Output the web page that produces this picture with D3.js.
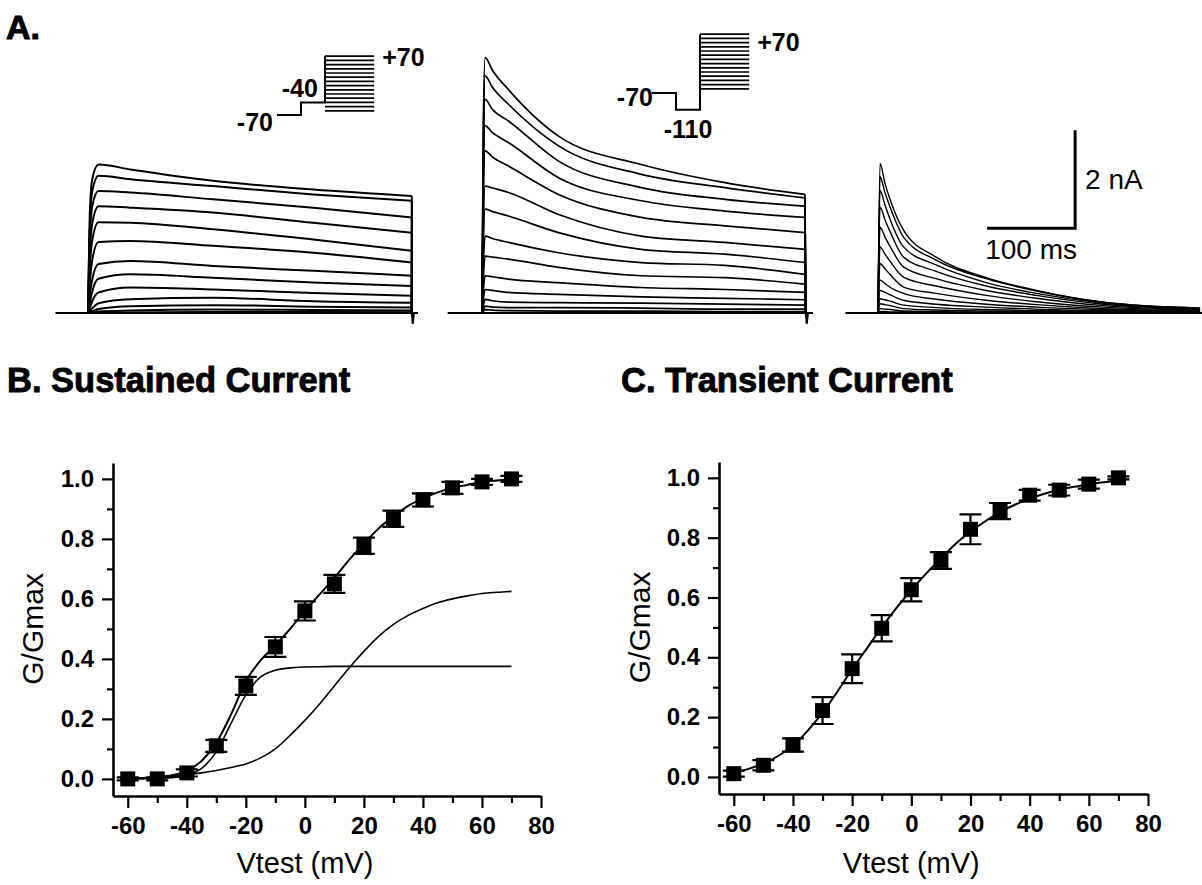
<!DOCTYPE html>
<html>
<head>
<meta charset="utf-8">
<script src="https://cdn.jsdelivr.net/npm/d3@7"></script>
<style>
  body { margin: 0; background: #fff; }
  svg { display: block; }
  text { font-family: "Liberation Sans", Arial, Helvetica, sans-serif; fill: #000; }
</style>
</head>
<body>
<svg id="fig" width="1202" height="885"></svg>
<script>
// ---- panel A: current traces (nA) at sample times (ms after step onset), one row per test step
const stepTimes1 = [0, 2, 5, 12, 48, 142, 256, 368];
const sustainedTraces = [
  [0, 2.0, 2.75, 3.03, 2.93, 2.70, 2.52, 2.39],
  [0, 1.8, 2.50, 2.80, 2.73, 2.59, 2.42, 2.29],
  [0, 1.5, 2.20, 2.49, 2.46, 2.32, 2.15, 1.95],
  [0, 1.2, 1.85, 2.18, 2.15, 2.05, 1.84, 1.64],
  [0, 0.9, 1.50, 1.85, 1.84, 1.71, 1.50, 1.27],
  [0, 0.6, 1.10, 1.45, 1.47, 1.37, 1.23, 1.03],
  [0, 0.35, 0.70, 1.00, 1.06, 0.96, 0.86, 0.76],
  [0, 0.20, 0.45, 0.70, 0.79, 0.72, 0.62, 0.55],
  [0, 0.10, 0.25, 0.42, 0.52, 0.48, 0.41, 0.35],
  [0, 0.04, 0.10, 0.20, 0.28, 0.31, 0.24, 0.21],
  [0, 0.02, 0.04, 0.08, 0.14, 0.16, 0.13, 0.11],
  [0, 0.01, 0.02, 0.03, 0.05, 0.07, 0.06, 0.05],
  [0, 0, 0.01, 0.01, 0.01, 0.02, 0.02, 0.01],
  [0, 0, 0, 0, 0, 0.01, 0.01, 0.01]
];

const stepTimes2 = [0, 1.5, 3.5, 12, 30, 87, 181, 276, 367];
const totalTraces = [
  [0, 3.8, 5.21, 4.95, 4.56, 3.61, 3.03, 2.66, 2.42],
  [0, 3.5, 4.84, 4.60, 4.26, 3.41, 2.83, 2.56, 2.35],
  [0, 3.1, 4.36, 4.15, 3.92, 3.10, 2.56, 2.32, 2.18],
  [0, 2.7, 3.82, 3.68, 3.48, 2.76, 2.29, 2.08, 1.95],
  [0, 2.3, 3.31, 3.18, 3.00, 2.42, 1.95, 1.78, 1.64],
  [0, 1.8, 2.59, 2.55, 2.46, 2.01, 1.57, 1.44, 1.30],
  [0, 1.4, 2.12, 2.07, 1.98, 1.64, 1.30, 1.20, 1.03],
  [0, 1.0, 1.57, 1.52, 1.44, 1.23, 1.03, 0.97, 0.79],
  [0, 0.7, 1.16, 1.14, 1.10, 0.93, 0.76, 0.72, 0.59],
  [0, 0.45, 0.76, 0.74, 0.69, 0.62, 0.52, 0.48, 0.42],
  [0, 0.28, 0.48, 0.46, 0.42, 0.38, 0.33, 0.30, 0.27],
  [0, 0.15, 0.28, 0.25, 0.22, 0.21, 0.20, 0.18, 0.16],
  [0, 0.07, 0.14, 0.12, 0.11, 0.11, 0.10, 0.08, 0.08],
  [0, 0.03, 0.07, 0.06, 0.05, 0.04, 0.04, 0.03, 0.03]
];

const stepTimes3 = [0, 2.3, 8, 14, 29, 66, 123, 180, 256, 366];
const transientTraces = [
  [0, 3.05, 2.64, 2.30, 1.69, 1.14, 0.72, 0.46, 0.22, 0.10],
  [0, 2.78, 2.45, 2.15, 1.55, 1.08, 0.70, 0.45, 0.22, 0.10],
  [0, 2.50, 2.20, 1.90, 1.35, 0.98, 0.62, 0.40, 0.20, 0.09],
  [0, 2.16, 1.90, 1.65, 1.14, 0.85, 0.55, 0.36, 0.18, 0.08],
  [0, 1.75, 1.55, 1.35, 0.94, 0.70, 0.46, 0.30, 0.15, 0.07],
  [0, 1.35, 1.20, 1.05, 0.73, 0.55, 0.36, 0.23, 0.12, 0.06],
  [0, 1.01, 0.90, 0.78, 0.53, 0.40, 0.26, 0.17, 0.09, 0.05],
  [0, 0.67, 0.60, 0.52, 0.40, 0.28, 0.18, 0.12, 0.07, 0.04],
  [0, 0.46, 0.42, 0.37, 0.26, 0.18, 0.12, 0.08, 0.05, 0.03],
  [0, 0.29, 0.27, 0.24, 0.16, 0.11, 0.07, 0.05, 0.03, 0.02],
  [0, 0.19, 0.17, 0.15, 0.09, 0.06, 0.04, 0.03, 0.02, 0.01],
  [0, 0.09, 0.08, 0.07, 0.04, 0.03, 0.02, 0.02, 0.01, 0.01],
  [0, 0.03, 0.03, 0.02, 0.02, 0.01, 0.01, 0.01, 0.01, 0]
];

// baseline (ms) before / after the step, pulse length
const preTime = [-37, -39, -37];
const postTime = [375, 376, 370];
const pulseEnd = 368;

// voltage protocols (mV)
const holdMv = -70;
const prepulseMv = [-40, -110];
const testStepsMv = [-60, -50, -40, -30, -20, -10, 0, 10, 20, 30, 40, 50, 60, 70];

// ---- panels B and C: normalised conductance
const vtest = [-60, -50, -40, -30, -20, -10, 0, 10, 20, 30, 40, 50, 60, 70];
const sustG = [0.0, 0.0, 0.02, 0.11, 0.31, 0.44, 0.56, 0.65, 0.777, 0.867, 0.93, 0.97, 0.99, 1.0];
const sustErr = [0.005, 0.005, 0.012, 0.02, 0.03, 0.033, 0.032, 0.03, 0.027, 0.027, 0.022, 0.02, 0.01, 0.01];
const transG = [0.011, 0.039, 0.107, 0.222, 0.362, 0.497, 0.626, 0.724, 0.828, 0.889, 0.942, 0.959, 0.979, 1.0];
const transErr = [0.01, 0.017, 0.022, 0.045, 0.048, 0.044, 0.039, 0.028, 0.05, 0.027, 0.018, 0.018, 0.015, 0.005];

const fitV = [-60, -55, -50, -45, -40, -35, -30, -25, -20, -15, -10, -5, 0, 5, 10, 15, 20, 25, 30, 35, 40, 45, 50, 55, 60, 65, 70];
const sustFitSum = [0.002, 0.003, 0.006, 0.012, 0.027, 0.06, 0.12, 0.215, 0.325, 0.395, 0.445, 0.50, 0.56, 0.615, 0.67, 0.73, 0.785, 0.835, 0.875, 0.91, 0.935, 0.955, 0.97, 0.98, 0.99, 0.995, 1.0];
const sustFitFast = [0.0, 0.0, 0.002, 0.004, 0.012, 0.035, 0.09, 0.185, 0.28, 0.34, 0.362, 0.37, 0.373, 0.374, 0.375, 0.375, 0.375, 0.375, 0.375, 0.375, 0.375, 0.375, 0.375, 0.375, 0.375, 0.375, 0.375];
const sustFitSlow = [0.002, 0.003, 0.005, 0.008, 0.014, 0.02, 0.028, 0.038, 0.05, 0.07, 0.10, 0.145, 0.195, 0.25, 0.31, 0.37, 0.425, 0.475, 0.515, 0.545, 0.568, 0.587, 0.60, 0.61, 0.618, 0.622, 0.625];
const transFit = [0.015, 0.027, 0.045, 0.07, 0.105, 0.155, 0.215, 0.285, 0.36, 0.43, 0.50, 0.565, 0.625, 0.68, 0.73, 0.78, 0.82, 0.855, 0.885, 0.91, 0.93, 0.947, 0.96, 0.97, 0.978, 0.985, 0.99];

const xMajor = [-60, -40, -20, 0, 20, 40, 60, 80];
const xMinor = [-50, -30, -10, 10, 30, 50, 70];
const yMajor = [0, 0.2, 0.4, 0.6, 0.8, 1.0];
const yMinor = [0.1, 0.3, 0.5, 0.7, 0.9];

const svg = d3.select("#fig");
const font = '"Liberation Sans", Arial, Helvetica, sans-serif';

// panel letter
svg.append("text").attr("x", 6).attr("y", 39)
  .style("font-size", "34px").style("font-weight", "bold")
  .attr("stroke", "#000").attr("stroke-width", 1).text("A.");

// ---------- panel A traces
const groups = [
  { step: 88, times: stepTimes1, traces: sustainedTraces, drop: true, w: 2 },
  { step: 482, times: stepTimes2, traces: totalTraces, drop: true, w: 1.7 },
  { step: 878, times: stepTimes3, traces: transientTraces, drop: false, w: 1.4 }
];
const pxPer100ms = 88, pxPer2nA = 98, base = 313;

const line = d3.line().curve(d3.curveMonotoneX);

groups.forEach((g, gi) => {
  g.x = d3.scaleLinear().domain([0, 100]).range([g.step, g.step + pxPer100ms]);
  g.y = d3.scaleLinear().domain([0, 2]).range([base, base - pxPer2nA]);
  const layer = svg.append("g");

  // baseline with end transient
  let bl = [[preTime[gi], 0], [0, 0]];
  if (g.drop) bl = bl.concat([[pulseEnd, 0], [pulseEnd + 1, -0.22], [pulseEnd + 2.5, 0], [postTime[gi], 0]]);
  else bl.push([postTime[gi], 0]);
  layer.append("path")
    .attr("d", d3.line()(bl.map(p => [g.x(p[0]), g.y(p[1])])))
    .attr("fill", "none").attr("stroke", "#000").attr("stroke-width", 2);

  g.traces.forEach(tr => {
    const pts = g.times.map((t, i) => [g.x(t), g.y(tr[i])]);
    layer.append("path")
      .attr("d", line(pts))
      .attr("fill", "none").attr("stroke", "#000")
      .attr("stroke-width", g.w).attr("stroke-linejoin", "round");
    if (g.drop) {
      const last = pts[pts.length - 1];
      layer.append("line")
        .attr("x1", last[0]).attr("x2", g.x(pulseEnd))
        .attr("y1", last[1]).attr("y2", g.y(0))
        .attr("stroke", "#000").attr("stroke-width", g.w);
    }
  });
});

// scale bar (drawn with the transient group's scales)
{
  const g = groups[2];
  const t0 = 124, i0 = 1.73;
  svg.append("path")
    .attr("d", d3.line()([[g.x(t0), g.y(i0)], [g.x(t0 + 100), g.y(i0)], [g.x(t0 + 100), g.y(i0 + 2)]]))
    .attr("fill", "none").attr("stroke", "#000").attr("stroke-width", 3);
  svg.append("text").attr("x", g.x(t0 + 100) + 10).attr("y", g.y(i0 + 1) + 10)
    .style("font-size", "28px").text("2 nA");
  svg.append("text").attr("x", g.x(t0 + 50)).attr("y", g.y(i0) + 31)
    .attr("text-anchor", "middle").style("font-size", "28px").text("100 ms");
}

// ---------- voltage protocol insets
function protocol(x0, yHold, pre, labels) {
  const v = d3.scaleLinear().domain([-70, 70]).range([yHold, yHold - 58.8]);
  const t = d3.scaleLinear().domain([0, 1]).range([x0, x0 + 24]);
  const g = svg.append("g");
  g.append("path")
    .attr("d", d3.line()([[t(0), v(holdMv)], [t(1), v(holdMv)], [t(1), v(pre)], [t(2), v(pre)], [t(2), v(70)]]))
    .attr("fill", "none").attr("stroke", "#000").attr("stroke-width", 2);
  g.selectAll("line.step").data(testStepsMv).join("line")
    .attr("x1", t(2)).attr("x2", t(4.05))
    .attr("y1", d => v(d)).attr("y2", d => v(d))
    .attr("stroke", "#000").attr("stroke-width", 1.7);
  labels(g, t, v);
}
const bold = sel => sel.style("font-size", "25px").style("font-weight", "bold");
protocol(277, 115, prepulseMv[0], (g, t, v) => {
  bold(g.append("text").attr("x", t(0) - 4).attr("y", v(holdMv) + 16).attr("text-anchor", "end")).text("-70");
  bold(g.append("text").attr("x", t(1.7)).attr("y", v(prepulseMv[0]) - 5).attr("text-anchor", "end")).text("-40");
  bold(g.append("text").attr("x", t(4.05) + 8).attr("y", v(70) + 10)).text("+70");
});
protocol(652, 93, prepulseMv[1], (g, t, v) => {
  bold(g.append("text").attr("x", t(0) + 1).attr("y", v(holdMv) + 13).attr("text-anchor", "end")).text("-70");
  bold(g.append("text").attr("x", t(1.5)).attr("y", v(prepulseMv[1]) + 28).attr("text-anchor", "middle")).text("-110");
  bold(g.append("text").attr("x", t(4.05) + 8).attr("y", v(70) + 17)).text("+70");
});

// ---------- panels B and C
function ivPanel(opt) {
  const x = d3.scaleLinear().domain([-65, 80]).range([opt.left, opt.right]);
  const y = d3.scaleLinear().domain([-0.057, 1.053]).range([opt.bottom, opt.top]);
  const g = svg.append("g");

  svg.append("text").attr("x", opt.titleX).attr("y", 392)
    .style("font-size", "34.5px").style("font-weight", "bold")
    .attr("stroke", "#000").attr("stroke-width", 0.9).text(opt.title);

  const fmtX = d => String(d);
  g.append("g").attr("transform", `translate(0,${opt.bottom})`)
    .call(d3.axisBottom(x).tickValues(xMajor).tickSize(12).tickSizeOuter(0).tickPadding(9).tickFormat(fmtX));
  g.append("g").attr("transform", `translate(0,${opt.bottom})`)
    .call(d3.axisBottom(x).tickValues(xMinor).tickSize(7).tickSizeOuter(0).tickFormat(""))
    .select(".domain").remove();
  g.append("g").attr("transform", `translate(${opt.left},0)`)
    .call(d3.axisLeft(y).tickValues(yMajor).tickSize(11).tickSizeOuter(0).tickPadding(8).tickFormat(d3.format(".1f")));
  g.append("g").attr("transform", `translate(${opt.left},0)`)
    .call(d3.axisLeft(y).tickValues(yMinor).tickSize(6).tickSizeOuter(0).tickFormat(""))
    .select(".domain").remove();
  g.selectAll(".domain").attr("stroke-width", 2.6);
  g.selectAll(".tick line").attr("stroke-width", 2.2);
  g.selectAll(".tick text").style("font-family", font).style("font-size", "24px").style("font-weight", "bold");

  g.append("text").attr("x", x(0)).attr("y", 873).attr("text-anchor", "middle")
    .style("font-size", "29px").text("Vtest (mV)");
  g.append("text").attr("transform", `translate(${opt.yLabelX},${y(0.5)}) rotate(-90)`)
    .attr("text-anchor", "middle").style("font-size", "30px").text("G/Gmax");

  const curve = d3.line().x((d, i) => x(fitV[i])).y(d => y(d)).curve(d3.curveMonotoneX);
  opt.fits.forEach(f => {
    g.append("path").attr("d", curve(f.values)).attr("fill", "none")
      .attr("stroke", "#000").attr("stroke-width", f.w);
  });

  const cap = 11;
  vtest.forEach((v, i) => {
    const cx = x(v), top = y(opt.g[i] + opt.err[i]), bot = y(opt.g[i] - opt.err[i]);
    g.append("path")
      .attr("d", `M${cx},${top}V${bot}M${cx - cap},${top}H${cx + cap}M${cx - cap},${bot}H${cx + cap}`)
      .attr("stroke", "#000").attr("stroke-width", 2.2).attr("fill", "none");
  });
  g.selectAll("rect.pt").data(vtest).join("rect")
    .attr("x", d => x(d) - 7.5).attr("y", (d, i) => y(opt.g[i]) - 7.5)
    .attr("width", 15).attr("height", 15).attr("fill", "#000");
}

ivPanel({
  left: 113, right: 541, top: 463, bottom: 796, titleX: 7, yLabelX: 43,
  title: "B. Sustained Current", g: sustG, err: sustErr,
  fits: [{ values: sustFitSum, w: 2 }, { values: sustFitFast, w: 1.6 }, { values: sustFitSlow, w: 1.6 }]
});
ivPanel({
  left: 719, right: 1148, top: 462, bottom: 794, titleX: 621, yLabelX: 650,
  title: "C. Transient Current", g: transG, err: transErr,
  fits: [{ values: transFit, w: 2 }]
});
</script>
</body>
</html>
